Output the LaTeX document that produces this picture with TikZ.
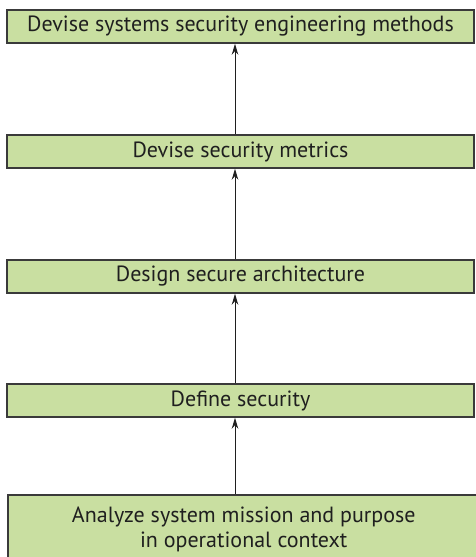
\documentclass[tikz,border=0pt]{standalone}
\usepackage{fontspec}
\setmainfont{PT Sans}
\usetikzlibrary{arrows.meta}
\definecolor{boxgreen}{RGB}{201,223,161}
\definecolor{edgegrey}{RGB}{58,58,58}

\begin{document}
\begin{tikzpicture}[x=1pt,y=-1pt,
  stepbox/.style={draw=edgegrey,fill=boxgreen,line width=1.5pt,inner sep=0pt,
    minimum width=467pt,minimum height=33pt,align=center,
    font=\fontsize{22}{25}\selectfont,text=black!88},
  uparrow/.style={draw=black!88,line width=0.9pt,-{Stealth[length=11pt,width=6.5pt]}}]

\useasboundingbox (0,0) rectangle (476,557);
\clip (0,0) rectangle (476,557);

% the five steps, bottom one runs off the page
\node[stepbox] (methods) at (240.5,26.5) {Devise systems security engineering methods};
\node[stepbox] (metrics) at (240.5,151.5) {Devise security metrics};
\node[stepbox] (arch) at (240.5,276.5) {Design secure architecture};
\node[stepbox] (define) at (240.5,400.5) {Define security};
\node[stepbox,anchor=north west,minimum width=472pt,minimum height=70pt] (mission) at (7,494)
  {Analyze system mission and purpose\\in operational context};

\coordinate (spine) at (235,0);

\draw[uparrow] (mission.north -| spine) -- (define.south -| spine);
\draw[uparrow] (define.north -| spine) -- (arch.south -| spine);
\draw[uparrow] (arch.north -| spine) -- (metrics.south -| spine);
\draw[uparrow] (metrics.north -| spine) -- (methods.south -| spine);

\end{tikzpicture}
\end{document}
